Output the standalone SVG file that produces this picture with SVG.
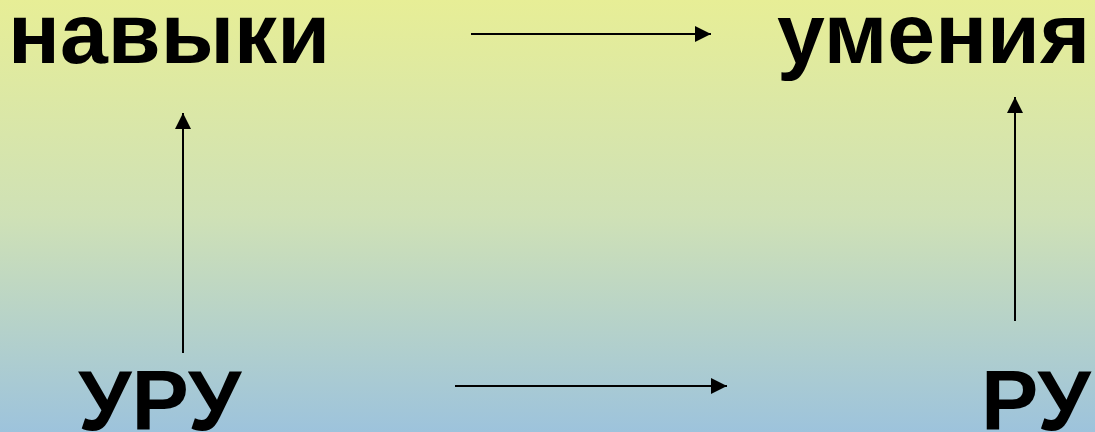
<svg xmlns="http://www.w3.org/2000/svg" width="1095" height="432" viewBox="0 0 1095 432">
<defs>
<linearGradient id="bg" x1="0" y1="0" x2="0" y2="1">
<stop offset="0" stop-color="#e7ee96"/>
<stop offset="0.5" stop-color="#cfe1b6"/>
<stop offset="1" stop-color="#9dc3dc"/>
</linearGradient>
<marker id="ah" viewBox="0 0 10 10" refX="10" refY="5" markerWidth="16" markerHeight="16" markerUnits="userSpaceOnUse" orient="auto">
<path d="M0,0 L10,5 L0,10 Z" fill="#000"/>
</marker>
<style>
.t{font-family:"Liberation Sans",Arial,sans-serif;font-weight:bold;font-size:86px;fill:#000}
.c{stroke:#000;stroke-width:2;fill:none;marker-end:url(#ah)}
</style>
</defs>
<rect width="1095" height="432" fill="url(#bg)"/>
<g id="navyki"><text class="t" x="8" y="63">навыки</text></g>
<g id="umeniya"><text class="t" x="777" y="63">умения</text></g>
<g id="uru"><text class="t" x="78" y="430">УРУ</text></g>
<g id="ru"><text class="t" x="981" y="430">РУ</text></g>
<g id="connectors">
<line class="c" x1="471" y1="34" x2="711" y2="34"/>
<line class="c" x1="455" y1="386" x2="727" y2="386"/>
<line class="c" x1="183" y1="353" x2="183" y2="113"/>
<line class="c" x1="1015" y1="321" x2="1015" y2="97"/>
</g>
</svg>
